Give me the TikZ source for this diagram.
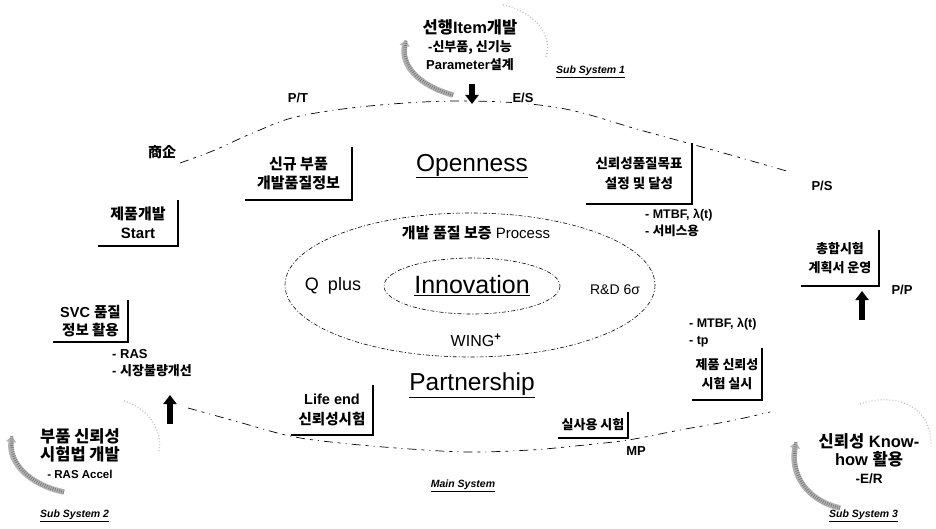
\documentclass[tikz,border=0pt]{standalone}
\usepackage{fontspec}
\setmainfont{Liberation Sans}
\newfontfamily\kr{Noto Sans CJK KR}
\newcommand\ko[1]{{\kr #1}}
\newcommand\fs[1]{\fontsize{#1}{1.3\dimexpr #1pt\relax}\selectfont}
\usetikzlibrary{arrows.meta}
\begin{document}
\begin{tikzpicture}[x=1pt,y=-1pt,
  lbl/.style={font=\bfseries\fontsize{13}{15}\selectfont, inner sep=1pt},
  boxtxt/.style={align=center, font=\bfseries\fontsize{13}{19}\selectfont, inner sep=0pt},
  boxedge/.style={line width=1.7pt},
  note/.style={align=left, anchor=west, font=\bfseries\fontsize{12.5}{17}\selectfont, inner sep=0pt},
  subtxt/.style={align=center, font=\bfseries\fontsize{16.5}{18}\selectfont, inner sep=0pt},
  subsys/.style={font=\bfseries\itshape\fontsize{10.5}{12}\selectfont, inner sep=0pt},
  big/.style={font=\fontsize{24.5}{27}\selectfont, inner sep=0pt},
  mid/.style={font=\fontsize{15}{17}\selectfont, inner sep=0pt},
  mainloop/.style={line width=0.7pt, dash pattern=on 9pt off 5pt on 3pt off 5pt on 1pt off 5pt},
  ring/.style={line width=0.6pt, dash pattern=on 4pt off 2pt on 1pt off 2pt},
  grayarc/.style={line width=5.5pt, gray!60, -{Triangle[width=10pt,length=6pt]}},
  grain/.style={line width=3.5pt, black!55, dash pattern=on 0.6pt off 1.6pt},
  dotarc/.style={line width=1.3pt, gray!55, dash pattern=on 0.8pt off 2.2pt},
  blockarrow/.style={line width=6pt, -{Triangle[width=13pt,length=9pt]}},
]
\fill[white] (0,0) rectangle (936,529);
\useasboundingbox (0,0) rectangle (936,529);

% ---- main system loop (visible stretches) ----
\draw[mainloop] plot[smooth, tension=0.6] coordinates {(180,163) (215,150) (255,132) (300,116) (380,105) (472,101) (560,108) (640,130) (720,152) (790,172)};
\draw[mainloop] plot[smooth, tension=0.6] coordinates {(188,408) (235,421) (290,436) (340,443) (410,449) (470,452) (530,450) (575,446) (628,440) (680,430) (730,421) (770,412)};

% ---- central rings ----
\draw[ring] (470,285) ellipse [x radius=185, y radius=72];
\draw[ring] (472,286) ellipse [x radius=88, y radius=28];

% ---- stage labels on the loop ----
\node[lbl, fill=white] (pt) at (298,98) {P/T};
\node[lbl, fill=white] (es) at (523,98) {E/S};
\node[lbl, font=\bfseries\fontsize{14}{16}\selectfont] (sq) at (162,152) {\ko{商企}};
\node[lbl] (ps) at (822,186) {P/S};
\node[lbl] (pp) at (902,290) {P/P};
\node[lbl] (mp) at (636,451) {MP};

% ---- core keywords ----
\node[big] (open) at (472,166) {\underline{Openness}};
\node[big, font=\fontsize{25}{28}\selectfont] (inno) at (472,286) {\underline{Innovation}};
\node[big] (part) at (472,385) {\underline{Partnership}};
\node[mid] (proc) at (476,233) {\ko{\bfseries 개발 품질 보증} Process};
\node[mid, font=\fontsize{18}{20}\selectfont] (qp) at (333,286) {Q\hspace{0.5em}plus};
\node[mid, font=\fontsize{14}{16}\selectfont] (rd) at (615,290) {R\&D 6σ};
\node[mid, font=\fontsize{16}{18}\selectfont] (wing) at (476,340) {WING\textsuperscript{\bfseries +}};

% ---- process boxes ----
\node[boxtxt, font=\bfseries\fontsize{15}{19}\selectfont, minimum width=107pt, minimum height=53pt] (b1) at (298.5,173.5) {\ko{신규 부품}\\\ko{개발품질정보}};
\draw[boxedge] (b1.north east) -- (b1.south east) -- (b1.south west);
\node[boxtxt, font=\bfseries\fontsize{15}{19}\selectfont, minimum width=80pt, minimum height=46pt] (b2) at (138,223) {\ko{제품개발}\\Start};
\draw[boxedge] (b2.north east) -- (b2.south east) -- (b2.south west);
\node[boxtxt, font=\bfseries\fontsize{14.5}{18}\selectfont, minimum width=75pt, minimum height=42pt] (b3) at (90.5,321) {SVC \ko{품질}\\\ko{정보 활용}};
\draw[boxedge] (b3.north east) -- (b3.south east) -- (b3.south west);
\node[boxtxt, font=\bfseries\fontsize{13.5}{20}\selectfont, minimum width=106pt, minimum height=61pt] (b4) at (639,173.5) {\ko{신뢰성품질목표}\\\ko{설정 및 달성}};
\draw[boxedge] (b4.north east) -- (b4.south east) -- (b4.south west);
\node[boxtxt, minimum width=78pt, minimum height=56pt] (b5) at (840,258) {\ko{총합시험}\\\ko{계획서 운영}};
\draw[boxedge] (b5.north east) -- (b5.south east) -- (b5.south west);
\node[boxtxt, minimum width=70pt, minimum height=52pt] (b6) at (727,374) {\ko{제품 신뢰성}\\\ko{시험 실시}};
\draw[boxedge] (b6.north east) -- (b6.south east) -- (b6.south west);
\node[boxtxt, font=\bfseries\fontsize{14.5}{20}\selectfont, minimum width=82pt, minimum height=50pt] (b7) at (332,410) {Life end\\\ko{신뢰성시험}};
\draw[boxedge] (b7.north east) -- (b7.south east) -- (b7.south west);
\node[boxtxt, minimum width=70pt, minimum height=26pt] (b8) at (593,425) {\ko{실사용 시험}};
\draw[boxedge] (b8.north east) -- (b8.south east) -- (b8.south west);

% ---- notes ----
\node[note] (n4) at (645,223) {- MTBF, λ(t)\\- \ko{서비스용}};
\node[note, font=\bfseries\fontsize{13}{17}\selectfont] (n3) at (112,363) {- RAS\\- \ko{시장불량개선}};
\node[note] (n6) at (689,333) {- MTBF, λ(t)\\- tp};

% ---- sub system 1 ----
\node[subtxt] (s1) at (470,45) {\ko{선행}Item\ko{개발}\\{\fs{13}-\ko{신부품, 신기능}}\\{\fs{13}Parameter\ko{설계}}};
\node[subsys, anchor=west] (ss1) at (556,72) {\underline{Sub System 1}};
\coordinate (g1a) at (453,95); \coordinate (g1b) at (406,40);
\draw[grayarc] (g1a) .. controls (420,86) and (400,66) .. (g1b);
\draw[grain] (g1a) .. controls (420,86) and (400,66) .. (g1b);
\coordinate (d1a) at (503,5); \coordinate (d1b) at (546,57);
\draw[dotarc] (d1a) .. controls (535,12) and (553,35) .. (d1b);
\coordinate (a1a) at (472,84); \coordinate (a1b) at (472,104);
\draw[blockarrow] (a1a) -- (a1b);

% ---- sub system 2 ----
\node[subtxt] (s2) at (80,454) {\ko{부품 신뢰성}\\\ko{시험법 개발}\\{\fs{11.5}- RAS Accel}};
\node[subsys, anchor=west] (ss2) at (40,516) {\underline{Sub System 2}};
\coordinate (g2a) at (64,492); \coordinate (g2b) at (12,436);
\draw[grayarc] (g2a) .. controls (30,485) and (8,463) .. (g2b);
\draw[grain] (g2a) .. controls (30,485) and (8,463) .. (g2b);
\coordinate (d2a) at (124,401); \coordinate (d2b) at (159,452);
\draw[dotarc] (d2a) .. controls (148,408) and (163,430) .. (d2b);
\coordinate (a2a) at (170,424); \coordinate (a2b) at (170,395);
\draw[blockarrow] (a2a) -- (a2b);

% ---- sub system 3 ----
\node[subtxt] (s3) at (869,459) {\ko{신뢰성} Know-\\how \ko{활용}\\{\fs{13.5}-E/R}};
\node[subsys, anchor=west] (ss3) at (829,516) {\underline{Sub System 3}};
\coordinate (g3a) at (840,508); \coordinate (g3b) at (796,442);
\draw[grayarc] (g3a) .. controls (806,500) and (790,474) .. (g3b);
\draw[grain] (g3a) .. controls (806,500) and (790,474) .. (g3b);
\coordinate (d3a) at (860,404); \coordinate (d3b) at (931,446);
\draw[dotarc] (d3a) .. controls (895,392) and (932,405) .. (d3b);
\coordinate (a3a) at (862,320); \coordinate (a3b) at (862,291);
\draw[blockarrow] (a3a) -- (a3b);

% ---- main system caption ----
\node[subsys] (ms) at (463,486) {\underline{Main System}};
\end{tikzpicture}
\end{document}
